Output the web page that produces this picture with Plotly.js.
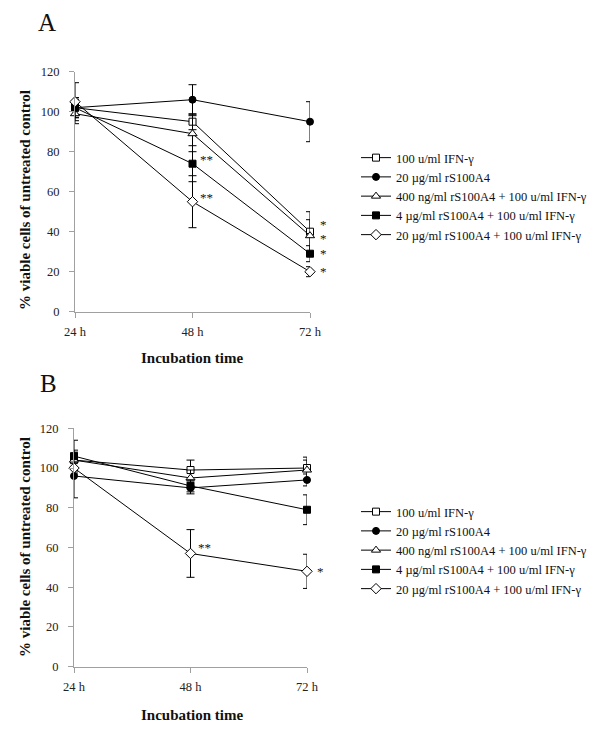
<!DOCTYPE html>
<html>
<head>
<meta charset="utf-8">
<script src="https://cdn.plot.ly/plotly-3.0.1.min.js"></script>
<style>html,body{margin:0;padding:0;background:#fff;}#chart{width:600px;height:732px;}</style>
</head>
<body>
<div id="chart"></div>
<script>
// ---- data ----
const timepoints = [24, 48, 72];
const tickLabels = ['24 h', '48 h', '72 h'];
const seriesNames = [
  '100 u/ml IFN-γ',
  '20 µg/ml rS100A4',
  '400 ng/ml rS100A4 + 100 u/ml IFN-γ',
  '4 µg/ml rS100A4 + 100 u/ml IFN-γ',
  '20 µg/ml rS100A4 + 100 u/ml IFN-γ'
];
// Panel A
const aIFN   = [102, 95, 40];   const aIFNErr   = [4, 4, 10];
const aS100  = [102, 106, 95];  const aS100Err  = [5, 7.5, 10];
const a400   = [99, 89, 38];    const a400Err   = [5, 9, 8];
const a4     = [102, 74, 29];   const a4Err     = [5, 9, 4];
const a20    = [105, 55, 20];   const a20Err    = [9.5, 13, 2.5];
// Panel B
const bIFN   = [104, 99, 100];  const bIFNErr   = [4, 5, 5.5];
const bS100  = [96, 90, 94];    const bS100Err  = [11, 3, 3];
const b400   = [104, 95, 99];   const b400Err   = [5, 4, 5];
const b4     = [106, 91, 79];   const b4Err     = [8, 3, 7.5];
const b20    = [100, 57, 48];   const b20Err    = [3, 12, 8.6];
// significance marks: [panel, seriesIndex, timeIndex, text]
const sigMarks = [
  ['A', 3, 1, '**'], ['A', 4, 1, '**'],
  ['A', 0, 2, '*'], ['A', 2, 2, '*'], ['A', 3, 2, '*'], ['A', 4, 2, '*'],
  ['B', 4, 1, '**'], ['B', 4, 2, '*']
];
// vertical pixel nudges for the marks (style only)
const sigNudge = [4, 4, 7, -3, 0, 0, 6, 0];

// ---- styles ----
const symbols = ['square-open', 'circle', 'triangle-up-open', 'square', 'diamond-open'];
const sizes = [7, 7, 8, 7, 8];
const serif = '"Liberation Serif", "Times New Roman", Times, serif';

const panelA = [[aIFN, aIFNErr], [aS100, aS100Err], [a400, a400Err], [a4, a4Err], [a20, a20Err]];
const panelB = [[bIFN, bIFNErr], [bS100, bS100Err], [b400, b400Err], [b4, b4Err], [b20, b20Err]];

const traces = [];
function addPanel(panel, xa, ya, legendName) {
  panel.forEach((s, i) => {
    const open = symbols[i].endsWith('-open');
    traces.push({
      type: 'scatter', mode: 'lines+markers',
      x: timepoints, y: s[0], name: seriesNames[i],
      xaxis: xa, yaxis: ya, legend: legendName,
      cliponaxis: false,
      line: {color: '#000', width: 1},
      marker: {symbol: symbols[i].replace('-open', ''), size: sizes[i], color: open ? '#fff' : '#000',
               line: {color: '#000', width: 1}},
      error_y: {type: 'data', array: s[1], visible: true, color: '#000', thickness: 1, width: 4}
    });
  });
}
addPanel(panelA, 'x', 'y', 'legend');
addPanel(panelB, 'x2', 'y2', 'legend2');

const axisCommon = {
  showgrid: false, zeroline: false, showline: true, linecolor: '#a0a0a0', linewidth: 1,
  ticks: 'outside', tickcolor: '#a0a0a0', ticklen: 5, tickwidth: 1,
  tickfont: {family: serif, size: 12.5, color: '#222'}
};
const xCommon = Object.assign({}, axisCommon, {
  range: [24, 72], tickmode: 'array', tickvals: timepoints, ticktext: tickLabels, ticklabelstandoff: 3
});
const yCommon = Object.assign({}, axisCommon, {
  range: [0, 120], tickmode: 'linear', tick0: 0, dtick: 20, ticklabelstandoff: 7
});

const annotations = [];
function txt(text, x, y, size, bold, angle) {
  annotations.push({xref: 'paper', yref: 'paper', x: x / 600, y: 1 - y / 732,
    xanchor: 'center', yanchor: 'middle', showarrow: false, textangle: angle || 0,
    text: bold ? '<b>' + text + '</b>' : text, font: {family: serif, size: size, color: '#111'}});
}
txt('A', 47, 23, 25, false);
txt('B', 48, 383, 25, false);
txt('% viable cells of untreated control', 25, 200, 15, true, -90);
txt('% viable cells of untreated control', 25, 547, 15, true, -90);
txt('Incubation time', 192, 358, 15, true);
txt('Incubation time', 192, 715, 15, true);

sigMarks.forEach((m, k) => {
  const panel = m[0] === 'A' ? panelA : panelB;
  const val = panel[m[1]][0][m[2]];
  annotations.push({
    xref: m[0] === 'A' ? 'x' : 'x2', yref: m[0] === 'A' ? 'y' : 'y2',
    x: timepoints[m[2]], y: val, xanchor: 'left', yanchor: 'middle',
    xshift: m[2] === 2 ? 8 : 5, yshift: sigNudge[k],
    showarrow: false, text: m[3], font: {family: serif, size: 13, color: '#111'}
  });
});

const legendCommon = {
  font: {family: serif, size: 12.5, color: '#111'}, bgcolor: 'rgba(0,0,0,0)',
  xanchor: 'left', yanchor: 'top', itemwidth: 30, tracegroupgap: 0, traceorder: 'normal'
};

const layout = {
  width: 600, height: 732, margin: {l: 0, r: 0, t: 0, b: 0},
  paper_bgcolor: '#fff', plot_bgcolor: '#fff', showlegend: true,
  xaxis: Object.assign({}, xCommon, {domain: [75 / 600, 310 / 600], anchor: 'y'}),
  yaxis: Object.assign({}, yCommon, {domain: [1 - 311.7 / 732, 1 - 71.7 / 732], anchor: 'x'}),
  xaxis2: Object.assign({}, xCommon, {domain: [74 / 600, 307 / 600], anchor: 'y2'}),
  yaxis2: Object.assign({}, yCommon, {domain: [1 - 666.7 / 732, 1 - 428.3 / 732], anchor: 'x2'}),
  legend: Object.assign({}, legendCommon, {x: 356 / 600, y: 1 - 143 / 732}),
  legend2: Object.assign({}, legendCommon, {x: 356 / 600, y: 1 - 497 / 732}),
  annotations: annotations
};

Plotly.newPlot('chart', traces, layout, {staticPlot: true});
</script>
</body>
</html>
